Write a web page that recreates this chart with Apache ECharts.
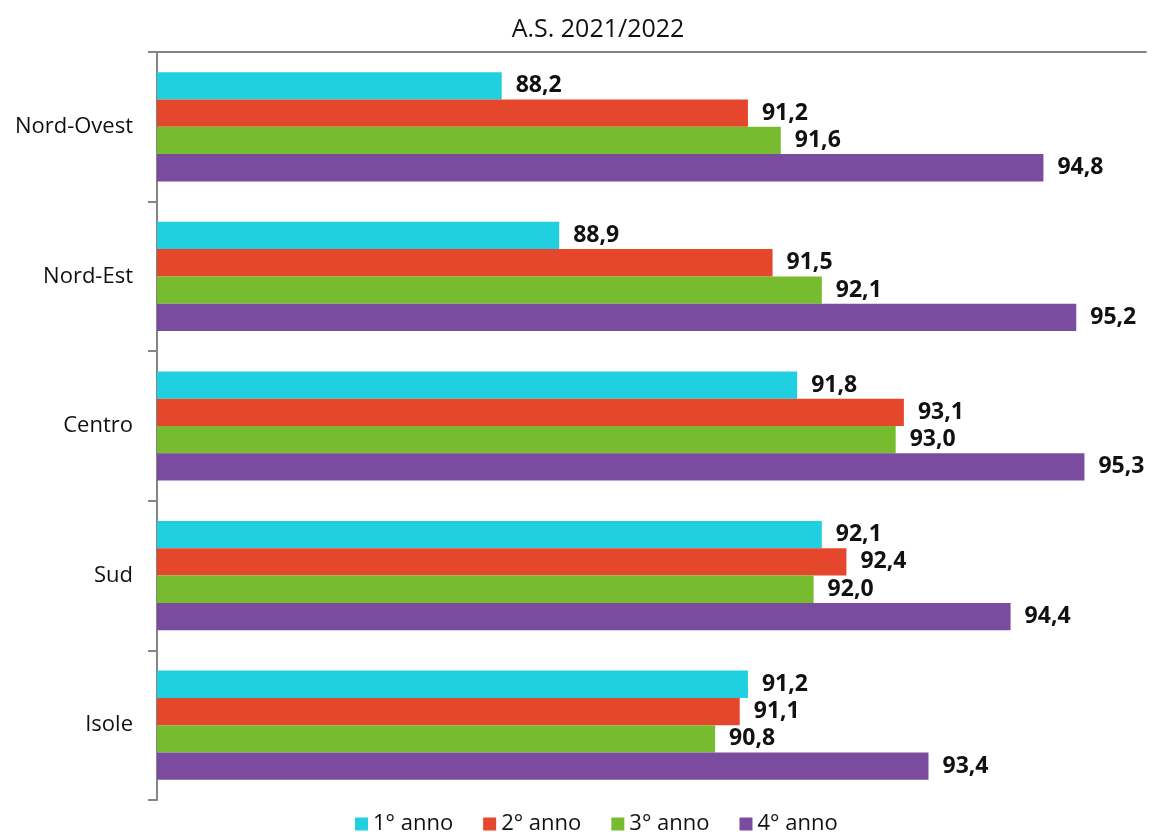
<!DOCTYPE html>
<html>
<head>
<meta charset="utf-8">
<script src="https://cdn.jsdelivr.net/npm/echarts@6/dist/echarts.min.js"></script>
<style>
html,body{margin:0;padding:0;background:#fff;}
#chart{width:1154px;height:832px;}
</style>
</head>
<body>
<div id="chart"></div>
<script>
const categories = ['Nord-Ovest', 'Nord-Est', 'Centro', 'Sud', 'Isole'];
const seriesNames = ['1° anno', '2° anno', '3° anno', '4° anno'];
const anno1 = [88.2, 88.9, 91.8, 92.1, 91.2];
const anno2 = [91.2, 91.5, 93.1, 92.4, 91.1];
const anno3 = [91.6, 92.1, 93.0, 92.0, 90.8];
const anno4 = [94.8, 95.2, 95.3, 94.4, 93.4];
const colors = ['#20CFE0', '#E5472D', '#77BC2F', '#7A4B9F'];
const allData = [anno1, anno2, anno3, anno4];

const font = '"Open Sans", "Liberation Sans", sans-serif';
const chart = echarts.init(document.getElementById('chart'), null, {renderer: 'canvas'});
chart.setOption({
  animation: false,
  backgroundColor: '#ffffff',
  title: {
    text: 'A.S. 2021/2022',
    left: 593, top: 12,
    textAlign: 'center',
    textStyle: {fontFamily: font, fontSize: 25, fontWeight: 'normal', color: '#111'}
  },
  legend: {
    data: seriesNames,
    left: 350, top: 808,
    icon: 'rect', itemWidth: 13, itemHeight: 13, itemGap: 30,
    textStyle: {fontFamily: font, fontSize: 22, color: '#111'}
  },
  grid: {left: 157, right: 8, top: 52, bottom: 32, containLabel: false},
  xAxis: {
    type: 'value', min: 84, max: 96.05, position: 'top',
    axisLine: {show: true, lineStyle: {color: '#858585', width: 2}},
    axisTick: {show: false}, axisLabel: {show: false}, splitLine: {show: false}
  },
  yAxis: {
    type: 'category', data: categories, inverse: true,
    axisLine: {show: true, lineStyle: {color: '#858585', width: 2}},
    axisTick: {show: true, length: 9, lineStyle: {color: '#858585', width: 2}},
    axisLabel: {fontFamily: font, fontSize: 22, color: '#111', margin: 24, padding: [6, 0, 0, 0]}
  },
  series: allData.map((d, i) => ({
    name: seriesNames[i], type: 'bar', data: d,
    barGap: '0%', barCategoryGap: '27%',
    itemStyle: {color: colors[i]},
    label: {
      show: true, position: 'right', distance: 14,
      fontFamily: font, fontSize: 23, fontWeight: 'bold', color: '#111',
      formatter: p => p.value.toFixed(1).replace('.', ',')
    }
  }))
});
</script>
</body>
</html>
